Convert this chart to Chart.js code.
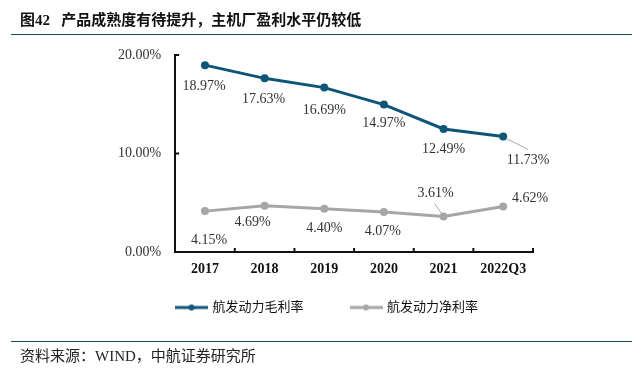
<!DOCTYPE html>
<html>
<head>
<meta charset="utf-8">
<style>
    html, body { margin: 0; padding: 0; background: #fff; }
    #wrap { position: relative; width: 642px; height: 377px; overflow: hidden; }
    #chart { position: absolute; left: 0; top: 0; }
    .rule { position: absolute; left: 11px; width: 621px; height: 1px; background: #17486b; }
    #title { position: absolute; left: 20px; top: 8px; font: bold 15px "Liberation Serif", "Noto Sans CJK SC"; color: #111; white-space: nowrap; }
    #source { position: absolute; left: 20px; top: 344px; font: 15px "Liberation Serif", "Noto Sans CJK SC"; color: #222; white-space: nowrap; }
</style>
<script src="https://cdn.jsdelivr.net/npm/chart.js@4"></script>
</head>
<body>
<div id="wrap">
    <canvas id="chart" width="642" height="377"></canvas>
    <div id="title">图42&nbsp;&nbsp; 产品成熟度有待提升，主机厂盈利水平仍较低</div>
    <div class="rule" style="top:34px"></div>
    <div class="rule" style="top:341px"></div>
    <div id="source">资料来源：WIND，中航证券研究所</div>
</div>
<script>
const years = ['2017', '2018', '2019', '2020', '2021', '2022Q3'];
const grossMargin = [18.97, 17.63, 16.69, 14.97, 12.49, 11.73];
const netMargin = [4.15, 4.69, 4.40, 4.07, 3.61, 4.62];
const grossName = '航发动力毛利率';
const netName = '航发动力净利率';
const yTicks = [0, 10, 20];

const blue = '#0f5578';
const grey = '#a6a6a6';
const serif = '"Liberation Serif", "Noto Sans CJK SC"';

// label offsets from the point, in pixels
const grossOffsets = [[-1, 21], [-1, 21], [0, 23], [0, 19], [0, 20], [25, 24]];
const netOffsets = [[4, 29], [-12, 17], [0, 20], [-1, 19], [-8, -23], [27, -8]];

// line with a dot, used as legend symbol
function legendIcon(color) {
    let c = document.createElement('canvas');
    c.width = 33;
    c.height = 10;
    let g = c.getContext('2d');
    g.strokeStyle = color;
    g.lineWidth = 3;
    g.beginPath();
    g.moveTo(0, 5);
    g.lineTo(33, 5);
    g.stroke();
    g.fillStyle = color;
    g.beginPath();
    g.arc(16.5, 5, 3, 0, Math.PI * 2);
    g.fill();
    return c;
}

const valueLabels = {
    id: 'valueLabels',
    afterDatasetsDraw(chart) {
        let ctx = chart.ctx;
        let sets = [[0, grossOffsets], [1, netOffsets]];
        ctx.save();
        ctx.font = '14px "Liberation Serif"';
        ctx.fillStyle = '#333';
        ctx.textAlign = 'center';
        ctx.textBaseline = 'middle';
        sets.forEach(([idx, offsets]) => {
            chart.getDatasetMeta(idx).data.forEach((pt, i) => {
                let val = chart.data.datasets[idx].data[i];
                ctx.fillText(val.toFixed(2) + '%', pt.x + offsets[i][0], pt.y + offsets[i][1]);
            });
        });
        // leader lines for the two labels that sit away from their points
        ctx.strokeStyle = '#aaa';
        ctx.lineWidth = 1;
        let a = chart.getDatasetMeta(0).data[5];
        let b = chart.getDatasetMeta(1).data[4];
        ctx.beginPath();
        ctx.moveTo(a.x + 3, a.y + 2);
        ctx.lineTo(a.x + 25, a.y + 13);
        ctx.moveTo(b.x - 2, b.y - 3);
        ctx.lineTo(b.x - 9, b.y - 13);
        ctx.stroke();
        ctx.restore();
    }
};

// ticks point inward on this chart
const innerTicks = {
    id: 'innerTicks',
    afterDraw(chart) {
        let ctx = chart.ctx;
        let x = chart.scales.x, y = chart.scales.y;
        ctx.save();
        ctx.strokeStyle = '#111';
        ctx.lineWidth = 2;
        ctx.beginPath();
        yTicks.forEach(v => {
            let p = y.getPixelForValue(v);
            ctx.moveTo(x.left, p);
            ctx.lineTo(x.left + 4, p);
        });
        let step = x.getPixelForValue(1) - x.getPixelForValue(0);
        years.forEach((yr, i) => {
            let p = x.getPixelForValue(i) + step / 2;
            ctx.moveTo(p, y.bottom);
            ctx.lineTo(p, y.bottom - 4);
        });
        ctx.stroke();
        ctx.restore();
    }
};

// nudge the legend, and give the x labels room since the axis box is squeezed
const layoutFix = {
    id: 'layoutFix',
    afterLayout(chart) {
        chart.legend.left += 5;
        chart.legend.right += 5;
        chart.legend.top -= 5;
        chart.legend.bottom -= 5;
        chart.scales.x.bottom += 20;
    }
};

new Chart(document.getElementById('chart'), {
    type: 'line',
    data: {
        labels: years,
        datasets: [
            {label: grossName, data: grossMargin, borderColor: blue, backgroundColor: blue, borderWidth: 3, pointRadius: 4, pointBackgroundColor: blue, pointBorderWidth: 0, lineTension: 0, pointStyle: 'circle'},
            {label: netName, data: netMargin, borderColor: grey, backgroundColor: grey, borderWidth: 3, pointRadius: 4, pointBackgroundColor: grey, pointBorderWidth: 0, lineTension: 0, pointStyle: 'circle'}
        ]
    },
    options: {
        responsive: false,
        animation: false,
        layout: {padding: {left: 112, right: 109, top: 55, bottom: 48}},
        scales: {
            x: {
                offset: true,
                grid: {display: false},
                border: {color: '#111', width: 2},
                afterFit: axis => { axis.height = 6; },
                ticks: {color: '#111', font: {family: serif, size: 14, weight: 'bold'}, padding: 1, maxRotation: 0}
            },
            y: {
                min: 0,
                max: 20,
                afterBuildTicks: axis => { axis.ticks = yTicks.map(v => ({value: v})); },
                grid: {display: false},
                border: {color: '#111', width: 2},
                ticks: {color: '#333', font: {family: '"Liberation Serif"', size: 14}, padding: 6, callback: v => v.toFixed(2) + '%'}
            }
        },
        plugins: {
            title: {display: false},
            tooltip: {enabled: false},
            legend: {
                display: true,
                position: 'bottom',
                labels: {
                    color: '#111',
                    font: {family: serif, size: 13},
                    usePointStyle: true,
                    pointStyleWidth: 29,
                    boxHeight: 10,
                    padding: 48,
                    generateLabels: chart => chart.data.datasets.map((d, i) => ({
                        text: d.label,
                        pointStyle: legendIcon(d.borderColor),
                        fontColor: '#111',
                        datasetIndex: i
                    }))
                }
            }
        }
    },
    plugins: [valueLabels, innerTicks, layoutFix]
});
</script>
</body>
</html>
